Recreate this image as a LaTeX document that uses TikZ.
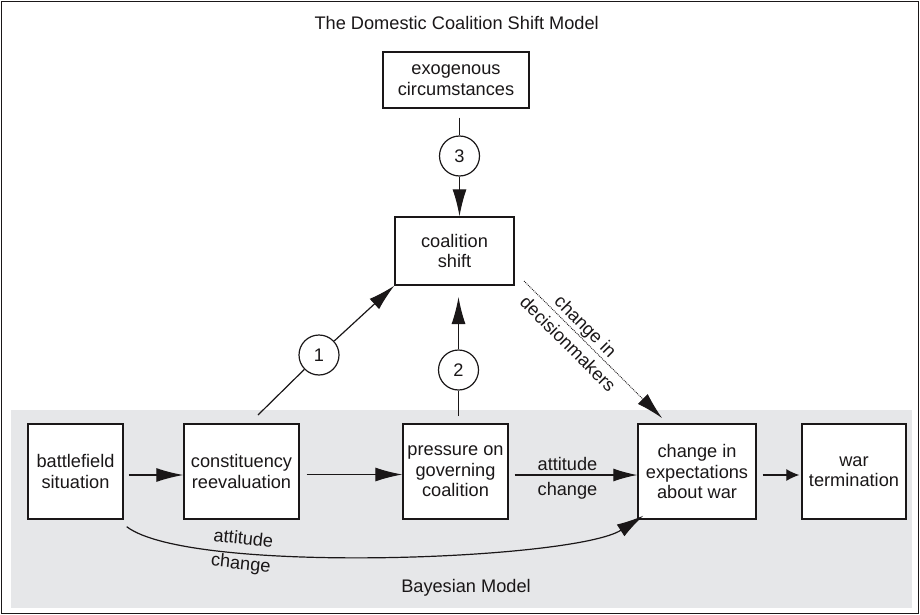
\documentclass[tikz,border=0pt]{standalone}
\usepackage{fontspec}
\setmainfont{Liberation Sans}
\usetikzlibrary{arrows.meta,calc}
\definecolor{ink}{HTML}{1A1718}
\definecolor{bayes}{HTML}{E6E7E9}
\begin{document}
\begin{tikzpicture}[x=1pt,y=-1pt,
  every node/.style={font=\fontsize{18.2}{20.5}\selectfont, text=ink},
  box/.style={draw=ink, fill=white, line width=1.4pt, align=center, inner sep=0pt},
  circ/.style={circle, draw=ink, fill=white, line width=1.2pt, minimum size=40pt, inner sep=0pt},
  ln/.style={draw=ink, line width=1.2pt},
  arr/.style={ln, -{Latex[length=27pt,width=14pt]}},
  sarr/.style={ln, -{Latex[length=13pt,width=12pt]}},
  lbl/.style={anchor=base, inner sep=0pt},
  twolbl/.style={align=center, inner sep=0pt, font=\fontsize{18.2}{25}\selectfont}
]
\useasboundingbox (0,0) rectangle (920,615);
% frame and Bayesian band
\draw[ink, line width=1.3pt] (1.5,1.5) rectangle (918.5,613.5);
\fill[bayes] (11,410) rectangle (912,608);

% titles
\node[lbl] (title) at (456.7,30) {The Domestic Coalition Shift Model};
\node[lbl] (bayeslbl) at (466,592) {Bayesian Model};

% boxes
\node[box, minimum width=146pt, minimum height=56pt] (exo) at (456,80) {exogenous\\circumstances};
\node[box, minimum width=119pt, minimum height=68pt] (coal) at (454.5,251) {coalition\\shift};
\node[box, minimum width=95pt, minimum height=95pt] (bat) at (75.5,471.5) {battlefield\\situation};
\node[box, minimum width=115pt, minimum height=95pt] (cons) at (241.5,471.5) {constituency\\reevaluation};
\node[box, minimum width=105pt, minimum height=95pt] (pres) at (455.5,471.5) {pressure on\\governing\\coalition};
\node[box, minimum width=118pt, minimum height=95pt] (exp) at (697,471.5) {change in\\expectations\\about war};
\node[box, minimum width=104pt, minimum height=95pt] (war) at (854,471.5) {war\\termination};

% numbered circles
\node[circ] (c3) at (459.5,156) {3};
\node[circ] (c1) at (319,355) {1};
\node[circ] (c2) at (458.5,370) {2};

% path 3
\draw[ln, shorten <=9pt] (c3 |- exo.south) -- (c3);
\draw[arr] (c3) -- (c3 |- coal.north);

% path 1
\coordinate (s1) at (258,415);
\draw[ln] (s1) -- (c1);
\draw[arr] (c1) -- (coal.south west);

% path 2
\coordinate (s2) at (458.5,416);
\coordinate (e2) at (458.5,297);
\draw[ln] (s2) -- (c2);
\draw[arr] (c2) -- (e2);

% change in decisionmakers
\coordinate (d1) at (524,281);
\coordinate (d2) at (662,418);
\draw[arr, line width=0.9pt, densely dotted] (d1) -- (d2);
\node[twolbl, rotate=-45] (cdl) at (577,335) {change in\\decisionmakers};

% Bayesian chain
\draw[arr, shorten <=5pt] ($(bat.east)+(0,3.5)$) -- ($(cons.west)+(0,3.5)$);
\draw[arr, shorten <=7pt] ($(cons.east)+(0,3)$) -- ($(pres.west)+(0,3)$);
\draw[ln, -{Latex[length=24pt,width=13pt]}, shorten <=6pt] ($(pres.east)+(0,3.5)$) -- ($(exp.west)+(0,3.5)$);
\node[twolbl] (ac1) at (567.5,478) {attitude\\change};
\draw[sarr, shorten <=6pt, shorten >=2pt] ($(exp.east)+(0,3.5)$) -- ($(war.west)+(0,3.5)$);

% curved attitude change
\draw[arr] ($(bat.south east)+(3,7)$) .. controls (190,575) and (575,560) .. ($(exp.south west)+(6,-4)$);
\node[twolbl, rotate=-6] (ac2) at (242,552) {attitude\\change};
\end{tikzpicture}
\end{document}
